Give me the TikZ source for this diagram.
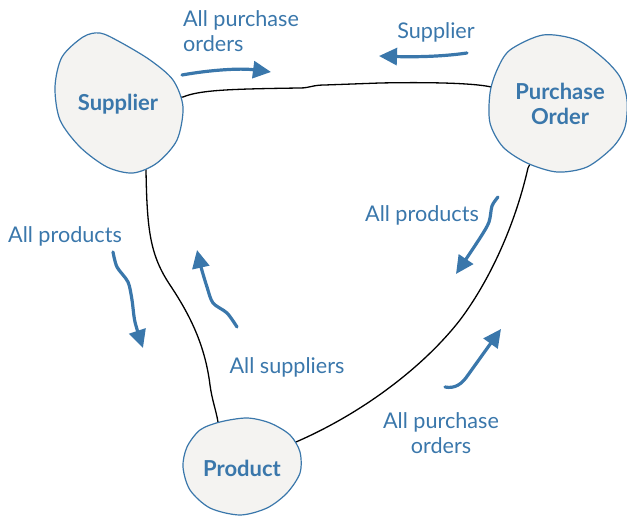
\documentclass[tikz,border=0pt]{standalone}
\usepackage{fontspec}
\setmainfont{Lato}
\usetikzlibrary{arrows.meta,backgrounds}
\definecolor{erblue}{HTML}{3A77AB}
\definecolor{erfill}{HTML}{F4F3F1}
\tikzset{
  blob/.style={draw=erblue, fill=erfill, line width=0.6pt},
  entity/.style={font=\bfseries\fontsize{11}{12.5}\selectfont, text=erblue, align=center, inner sep=1pt},
  flowtext/.style={font=\fontsize{10.8}{12.5}\selectfont, text=erblue, inner sep=0pt},
  flowarrow/.style={draw=erblue, line width=1.6pt, line cap=round, -{Triangle[length=9pt,width=8.5pt]}},
  rel/.style={line width=0.65pt}
}
\begin{document}
\begin{tikzpicture}[x=0.5pt, y=-0.5pt]
  \useasboundingbox (0,0) rectangle (627,517);
  % entities
  \path[blob] plot[smooth cycle] coordinates {(83,37) (100,33) (120,42) (150,60) (173,80) (183,107) (177,140) (157,163) (133,173) (107,167) (80,147) (60,120) (55,87) (62,57)};
  \path[blob] plot[smooth cycle] coordinates {(510,50) (543,35) (577,40) (603,58) (620,77) (627,100) (625,127) (613,147) (587,167) (557,172) (527,163) (503,147) (490,123) (490,93) (497,70)};
  \path[blob] plot[smooth cycle] coordinates {(220,422) (247,418) (270,423) (290,435) (300,452) (300,473) (287,493) (267,508) (240,515) (210,508) (190,490) (183,467) (187,447) (200,430)};
  \node[entity] (sup) at (118,104) {Supplier};
  \node[entity] (po) at (560,104) {Purchase\\Order};
  \node[entity] (prod) at (242,468) {Product};
  % relationships
  \begin{scope}[on background layer]
    \draw[rel] (sup.center) -- (183,97) .. controls (200,90) and (230,89) .. (300,88)
      .. controls (310,88) and (312,85) .. (325,85) -- (380,83)
      .. controls (430,82) and (480,83) .. (495,88) -- (po.center);
    \draw[rel] (sup.center) -- (146,170) .. controls (147,230) and (150,255) .. (170,285)
      .. controls (190,315) and (205,345) .. (210,385)
      .. controls (212,400) and (216,410) .. (218,422) -- (prod.center);
    \draw[rel] (prod.center) -- (296,442) .. controls (365,412) and (425,365) .. (460,320)
      .. controls (490,280) and (515,225) .. (528,168) -- (po.center);
  \end{scope}
  % directions
  \draw[flowarrow] (182,75) .. controls (210,70) and (240,68) .. (271,72);
  \draw[flowarrow] (467,53) .. controls (440,57) and (410,57) .. (379,56);
  \draw[flowarrow] plot[smooth] coordinates {(113,252) (117,267) (128,282) (132,300) (135,322) (143,348)};
  \draw[flowarrow] plot[smooth] coordinates {(237,327) (227,313) (213,303) (207,287) (201,267) (197,250)};
  \draw[flowarrow] plot[smooth] coordinates {(498,197) (492,206) (489,222) (480,238) (456,274)};
  \draw[flowarrow] (445,387) .. controls (455,389) and (462,384) .. (468,375) -- (501,329);
  % texts
  \node[flowtext, align=left] (t1) at (241,31) {All purchase\\orders};
  \node[flowtext] (t2) at (436,32) {Supplier};
  \node[flowtext] (t3) at (65,236) {All products};
  \node[flowtext] (t4) at (287,367) {All suppliers};
  \node[flowtext] (t5) at (422,215) {All products};
  \node[flowtext, align=center] (t6) at (441,433) {All purchase\\orders};
\end{tikzpicture}
\end{document}
